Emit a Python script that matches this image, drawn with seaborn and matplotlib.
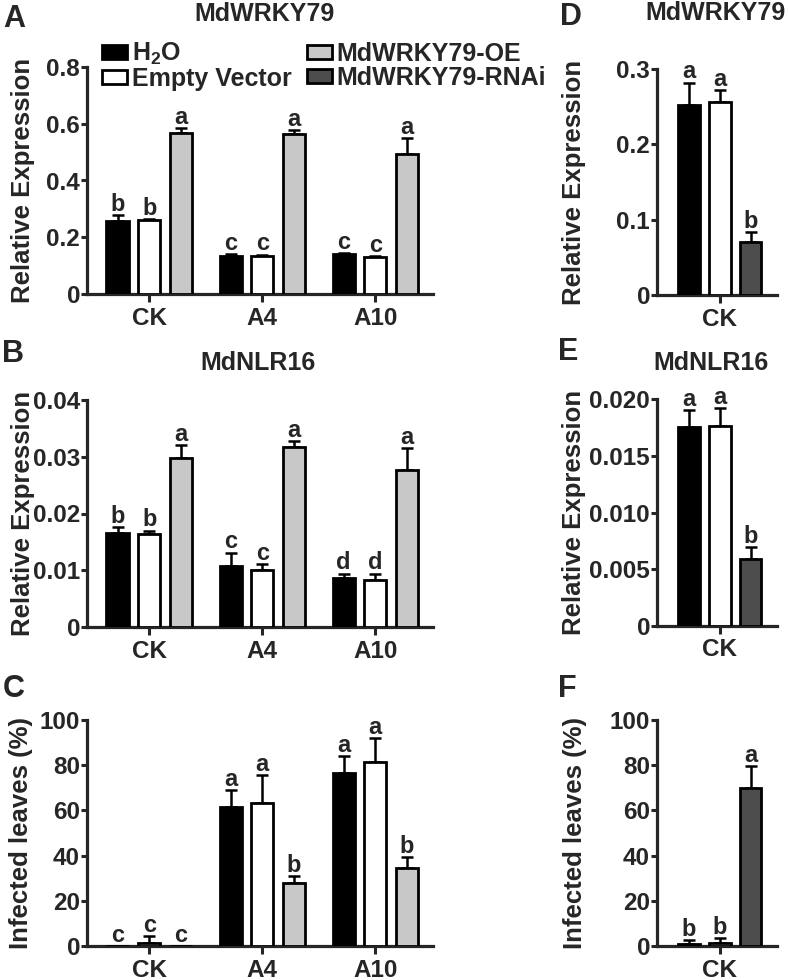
import numpy as np
import pandas as pd
import matplotlib
matplotlib.use("Agg")
import matplotlib.pyplot as plt
import seaborn as sns
from matplotlib.patches import Patch

# ---------------- data ----------------
groups_left = ["CK", "A4", "A10"]
groups_right = ["CK"]
treat_left = ["H2O", "Empty Vector", "MdWRKY79-OE"]
treat_right = ["H2O", "Empty Vector", "MdWRKY79-RNAi"]

# Panel A: MdWRKY79 relative expression
a_h2o = [0.259, 0.134, 0.140]
a_h2o_err = [0.020, 0.007, 0.004]
a_ev = [0.261, 0.133, 0.132]
a_ev_err = [0.002, 0.006, 0.003]
a_oe = [0.567, 0.565, 0.495]
a_oe_err = [0.018, 0.013, 0.055]
a_letters = [["b", "c", "c"], ["b", "c", "c"], ["a", "a", "a"]]

# Panel B: MdNLR16 relative expression
b_h2o = [0.0165, 0.0107, 0.0086]
b_h2o_err = [0.0011, 0.0024, 0.0008]
b_ev = [0.0163, 0.0101, 0.0082]
b_ev_err = [0.0007, 0.0010, 0.0012]
b_oe = [0.0298, 0.0318, 0.0277]
b_oe_err = [0.0022, 0.0009, 0.0039]
b_letters = [["b", "c", "d"], ["b", "c", "d"], ["a", "a", "a"]]

# Panel C: infected leaves (%)
c_h2o = [0.0, 61.7, 76.4]
c_h2o_err = [0.0, 7.3, 7.7]
c_ev = [1.2, 63.1, 81.4]
c_ev_err = [3.2, 12.6, 10.5]
c_oe = [0.0, 28.0, 34.7]
c_oe_err = [0.0, 3.0, 4.8]
c_letters = [["c", "a", "a"], ["c", "a", "a"], ["c", "b", "b"]]

# Panel D: MdWRKY79 (RNAi)
d_vals = [0.252, 0.256, 0.070]
d_err = [0.030, 0.016, 0.013]
d_letters = ["a", "a", "b"]

# Panel E: MdNLR16 (RNAi)
e_vals = [0.01753, 0.0176, 0.00588]
e_err = [0.0015, 0.0016, 0.00106]
e_letters = ["a", "a", "b"]

# Panel F: infected leaves (%) (RNAi)
f_vals = [0.8, 1.3, 69.8]
f_err = [1.9, 2.1, 9.8]
f_letters = ["b", "b", "a"]

a_ticks = [0, 0.2, 0.4, 0.6, 0.8]
a_ticklabels = ["0", "0.2", "0.4", "0.6", "0.8"]
b_ticks = [0, 0.01, 0.02, 0.03, 0.04]
b_ticklabels = ["0", "0.01", "0.02", "0.03", "0.04"]
pct_ticks = [0, 20, 40, 60, 80, 100]
pct_ticklabels = ["0", "20", "40", "60", "80", "100"]
d_ticks = [0, 0.1, 0.2, 0.3]
d_ticklabels = ["0", "0.1", "0.2", "0.3"]
e_ticks = [0, 0.005, 0.010, 0.015, 0.020]
e_ticklabels = ["0", "0.005", "0.010", "0.015", "0.020"]

palette = {"H2O": "#000000", "Empty Vector": "#ffffff",
           "MdWRKY79-OE": "#c8c8c8", "MdWRKY79-RNAi": "#4d4d4d"}
legend_labels = {"H2O": "H$_2$O", "Empty Vector": "Empty Vector",
                 "MdWRKY79-OE": "MdWRKY79-OE", "MdWRKY79-RNAi": "MdWRKY79-RNAi"}

# ---------------- style ----------------
sns.set_style("ticks")
plt.rcParams["font.family"] = ["Liberation Sans", "DejaVu Sans"]
plt.rcParams["font.weight"] = "bold"
plt.rcParams["axes.labelweight"] = "bold"
plt.rcParams["axes.titleweight"] = "bold"
plt.rcParams["mathtext.fontset"] = "custom"
plt.rcParams["mathtext.rm"] = "Liberation Sans:bold"
plt.rcParams["mathtext.it"] = "Liberation Sans:bold"
plt.rcParams["mathtext.bf"] = "Liberation Sans:bold"
plt.rcParams["mathtext.default"] = "rm"

W, H = 789, 980
fig = plt.figure(figsize=(W / 100, H / 100), dpi=100)

TICK_FS = 17.5
LETTER_FS = 17
TITLE_FS = 18
LABEL_FS = 18.5


def rect(left, top, right, bottom):
    return [left / W, 1 - bottom / H, (right - left) / W, (bottom - top) / H]


def panel(ax, cats, treats, means, errs, letters, ticks, ticklabels,
          ylabel, xlim, label_x):
    rows = []
    for t, vals in zip(treats, means):
        for c, v in zip(cats, vals):
            rows.append({"group": c, "treatment": t, "value": v})
    df = pd.DataFrame(rows)
    sns.barplot(data=df, x="group", y="value", hue="treatment",
                order=cats, hue_order=treats, palette=palette,
                edgecolor="black", linewidth=2.0, width=0.84, gap=0.3,
                errorbar=None, legend=False, saturation=1, ax=ax, zorder=3)
    bar_containers = list(ax.containers)
    for hi, container in enumerate(bar_containers):
        for bar in container.patches:
            xc = bar.get_x() + bar.get_width() / 2
            ci = int(round(xc))
            m = means[hi][ci]
            e = errs[hi][ci]
            if e > 0:
                ax.errorbar(xc, m, yerr=[[0], [e]], fmt="none", ecolor="black",
                            elinewidth=1.8, capsize=4.3, capthick=1.8, zorder=2)
            ax.annotate(letters[hi][ci], (xc, m + e), xytext=(0, 3),
                        textcoords="offset points", ha="center", va="baseline",
                        fontsize=LETTER_FS, fontweight="bold",
                        annotation_clip=False)
    ax.set_xlim(*xlim)
    ax.set_ylim(0, ticks[-1])
    ax.set_yticks(ticks, ticklabels)
    ax.set_xlabel("")
    ax.set_ylabel(ylabel, fontsize=LABEL_FS, fontweight="bold")
    ax.yaxis.set_label_coords(label_x, 0.5)
    sns.despine(ax=ax)
    for s in ("left", "bottom"):
        ax.spines[s].set_linewidth(2.3)
    ax.tick_params(axis="y", direction="out", length=4, width=2.2, pad=1,
                   labelsize=TICK_FS)
    ax.tick_params(axis="x", direction="out", length=6, width=2.2, pad=3,
                   labelsize=TICK_FS)
    for lab in ax.get_xticklabels() + ax.get_yticklabels():
        lab.set_fontweight("bold")


xl_left = (-0.55, 2.51)
xl_right = (-0.57, 0.52)

axA = fig.add_axes(rect(87, 67, 433, 294))
panel(axA, groups_left, treat_left, [a_h2o, a_ev, a_oe],
      [a_h2o_err, a_ev_err, a_oe_err], a_letters, a_ticks, a_ticklabels,
      "Relative Expression", xl_left, -0.15)
axA.set_title("MdWRKY79", x=0.514, y=1.167, fontsize=TITLE_FS,
              fontweight="bold")

axB = fig.add_axes(rect(87, 400, 433, 627))
panel(axB, groups_left, treat_left, [b_h2o, b_ev, b_oe],
      [b_h2o_err, b_ev_err, b_oe_err], b_letters, b_ticks, b_ticklabels,
      "Relative Expression", xl_left, -0.15)
axB.set_title("MdNLR16", x=0.494, y=1.097, fontsize=TITLE_FS,
              fontweight="bold")

axC = fig.add_axes(rect(87, 720, 433, 946))
panel(axC, groups_left, treat_left, [c_h2o, c_ev, c_oe],
      [c_h2o_err, c_ev_err, c_oe_err], c_letters, pct_ticks, pct_ticklabels,
      "Infected leaves (%)", xl_left, -0.155)

axD = fig.add_axes(rect(657, 69, 777, 295))
panel(axD, groups_right, treat_right, [[v] for v in d_vals],
      [[v] for v in d_err], [[v] for v in d_letters], d_ticks, d_ticklabels,
      "Relative Expression", xl_right, -0.59)
axD.set_title("MdWRKY79", x=0.49, y=1.181, fontsize=TITLE_FS,
              fontweight="bold")

axE = fig.add_axes(rect(657, 399, 777, 626))
panel(axE, groups_right, treat_right, [[v] for v in e_vals],
      [[v] for v in e_err], [[v] for v in e_letters], e_ticks, e_ticklabels,
      "Relative Expression", xl_right, -0.59)
axE.set_title("MdNLR16", x=0.45, y=1.093, fontsize=TITLE_FS,
              fontweight="bold")

axF = fig.add_axes(rect(657, 720, 777, 946))
panel(axF, groups_right, treat_right, [[v] for v in f_vals],
      [[v] for v in f_err], [[v] for v in f_letters], pct_ticks, pct_ticklabels,
      "Infected leaves (%)", xl_right, -0.58)

# legend in panel A
legend_order = ["H2O", "Empty Vector", "MdWRKY79-OE", "MdWRKY79-RNAi"]
handles = [Patch(facecolor=palette[k], edgecolor="black", linewidth=2,
                 label=legend_labels[k]) for k in legend_order]
axA.legend(handles=handles, ncol=2, loc="upper left",
           bbox_to_anchor=(0.043, 1.115), borderaxespad=0, borderpad=0,
           handlelength=1.0, handleheight=0.5, handletextpad=0.2,
           columnspacing=0.6, labelspacing=0.0, frameon=False,
           prop={"weight": "bold", "size": 18})

# panel letters
for letter, x, y in [("A", 3, 27), ("B", 2, 362), ("C", 3, 697),
                     ("D", 560, 25), ("E", 558, 360), ("F", 558, 697)]:
    fig.text(x / W, 1 - y / H, letter, fontsize=22, fontweight="bold",
             ha="left", va="baseline")

fig.savefig("out.png", dpi=100)
